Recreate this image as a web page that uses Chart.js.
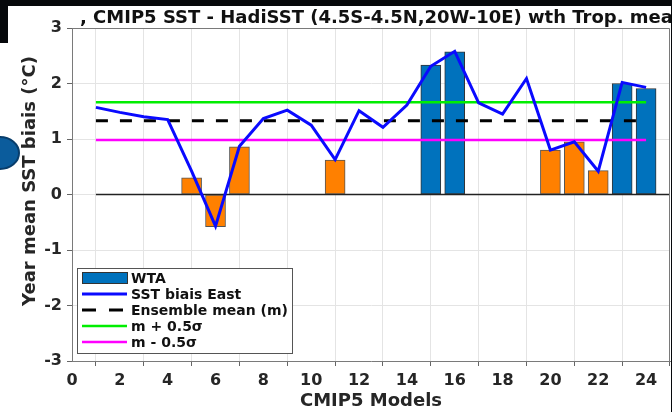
<!DOCTYPE html>
<html>
<head>
<meta charset="utf-8">
<script src="https://cdn.jsdelivr.net/npm/chart.js@4.4.0/dist/chart.umd.min.js"></script>
<style>
  html, body { margin: 0; padding: 0; background: #fff; }
  canvas { display: block; }
</style>
</head>
<body>
<canvas id="biasChart" width="672" height="412"></canvas>
<script>
// values
const models = [1, 2, 3, 4, 5, 6, 7, 8, 9, 10, 11, 12, 13, 14, 15, 16, 17, 18, 19, 20, 21, 22, 23, 24];
const sstEast = [1.57, 1.48, 1.40, 1.35, 0.42, -0.57, 0.87, 1.37, 1.52, 1.25, 0.63, 1.51, 1.21, 1.61, 2.31, 2.58, 1.65, 1.45, 2.09, 0.80, 0.95, 0.42, 2.02, 1.93];

const wtaModels = [15, 16, 23, 24];
const wtaBias = [2.33, 2.57, 2.00, 1.91];
const otherModels = [5, 6, 7, 11, 20, 21, 22];
const otherBias = [0.30, -0.58, 0.86, 0.62, 0.80, 0.95, 0.43];

const ensembleMean = 1.33;
const meanPlus = 1.66;
const meanMinus = 0.98;
const lineSpan = [1, 24];
const zeroSpan = [1, 25];

const xTicks = [0, 2, 4, 6, 8, 10, 12, 14, 16, 18, 20, 22, 24];
const yTicks = [-3, -2, -1, 0, 1, 2, 3];

const titleText = ", CMIP5 SST - HadiSST (4.5S-4.5N,20W-10E) wth Trop. mean";
const yTitle = "Year mean SST biais (\u00B0C)";
const xTitle = "CMIP5 Models";

const FONT = '"DejaVu Sans", "Liberation Sans", sans-serif';
const TEXT = "#262626";

const pts = (xs, ys) => xs.map((x, i) => ({ x: x, y: ys[i] }));
const flat = (span, v) => span.map(x => ({ x: x, y: v }));

// title, y label, legend box, frame and the slide leftovers around the figure
const decor = {
    id: "decor",
    beforeDraw(chart) {
        const c = chart.ctx;
        c.save();
        c.fillStyle = "#fff";
        c.fillRect(0, 0, chart.width, chart.height);
        c.restore();
    },
    afterDraw(chart) {
        const c = chart.ctx;
        const a = chart.chartArea;
        c.save();

        // top and right frame
        c.strokeStyle = "#7a7a7a";
        c.lineWidth = 1;
        c.beginPath();
        c.moveTo(a.left, a.top + 0.5);
        c.lineTo(a.right - 0.5, a.top + 0.5);
        c.lineTo(a.right - 0.5, a.bottom);
        c.stroke();

        // title
        c.fillStyle = "#111";
        c.font = "bold 18px " + FONT;
        c.textBaseline = "middle";
        c.textAlign = "left";
        c.fillText(titleText, 80, 18);

        // y axis title
        c.save();
        c.translate(30, 181);
        c.rotate(-Math.PI / 2);
        c.textAlign = "center";
        c.fillStyle = TEXT;
        c.font = "bold 18px " + FONT;
        c.fillText(yTitle, 0, 0);
        c.restore();

        // legend
        const items = chart.data.datasets.filter(d => d.label);
        const bx = 77, by = 268, bw = 215, bh = 85;
        c.fillStyle = "#fff";
        c.fillRect(bx, by, bw, bh);
        c.strokeStyle = "#555";
        c.lineWidth = 1;
        c.strokeRect(bx + 0.5, by + 0.5, bw, bh);
        c.font = "bold 14px " + FONT;
        c.textAlign = "left";
        items.forEach((d, i) => {
            const y = by + 10 + i * 16;
            if (d.type === "bar") {
                c.fillStyle = d.backgroundColor;
                c.fillRect(82, y - 6, 46, 12);
                c.strokeStyle = d.borderColor;
                c.strokeRect(82.5, y - 5.5, 45, 11);
            } else {
                c.strokeStyle = d.borderColor;
                c.lineWidth = d.borderWidth;
                c.setLineDash(d.borderDash ? [14, 13] : []);
                c.beginPath();
                c.moveTo(82, y);
                c.lineTo(127, y);
                c.stroke();
                c.setLineDash([]);
            }
            c.fillStyle = "#111";
            c.fillText(d.label, 131, y + 1);
        });

        // bits of the surrounding slide
        c.fillStyle = "#06080b";
        c.fillRect(0, 0, chart.width, 6);
        c.fillRect(0, 0, 8, 43);
        c.fillRect(671, 0, 1, chart.height);
        c.beginPath();
        c.ellipse(0, 153, 19, 16, 0, 0, Math.PI * 2);
        c.fillStyle = "#0b5c9c";
        c.fill();
        c.lineWidth = 2;
        c.strokeStyle = "#083d6b";
        c.stroke();

        c.restore();
    }
};

new Chart(document.getElementById("biasChart"), {
    type: "bar",
    data: {
        datasets: [
            {
                type: "bar",
                label: "WTA",
                data: pts(wtaModels, wtaBias),
                backgroundColor: "#0072bd",
                borderColor: "#333",
                borderWidth: 1,
                borderSkipped: false,
                barThickness: 20,
                grouped: false,
                order: 2
            },
            {
                type: "line",
                label: "SST biais East",
                data: pts(models, sstEast),
                borderColor: "#0a0aff",
                borderWidth: 3,
                pointRadius: 0,
                order: 0
            },
            {
                type: "line",
                label: "Ensemble mean (m)",
                data: flat(lineSpan, ensembleMean),
                borderColor: "#000",
                borderWidth: 3,
                borderDash: [12, 12],
                pointRadius: 0,
                order: 1
            },
            {
                type: "line",
                label: "m + 0.5\u03C3",
                data: flat(lineSpan, meanPlus),
                borderColor: "#00ee00",
                borderWidth: 2.5,
                pointRadius: 0,
                order: 1
            },
            {
                type: "line",
                label: "m - 0.5\u03C3",
                data: flat(lineSpan, meanMinus),
                borderColor: "#ff00ff",
                borderWidth: 2.5,
                pointRadius: 0,
                order: 1
            },
            {
                type: "line",
                label: "",
                data: flat(zeroSpan, 0),
                borderColor: "#222",
                borderWidth: 1.5,
                pointRadius: 0,
                order: 3
            },
            {
                type: "bar",
                label: "",
                data: pts(otherModels, otherBias),
                backgroundColor: "#ff8000",
                borderColor: "#555",
                borderWidth: 1,
                borderSkipped: false,
                barThickness: 20,
                grouped: false,
                order: 2
            }
        ]
    },
    options: {
        responsive: false,
        animation: false,
        devicePixelRatio: 1,
        layout: { padding: { top: 28, right: 2, left: 0, bottom: 0 } },
        plugins: {
            legend: { display: false },
            tooltip: { enabled: false }
        },
        scales: {
            x: {
                type: "linear",
                min: 0,
                max: 25,
                offset: false,
                afterFit: s => { s.height = 51; },
                afterBuildTicks: s => { s.ticks = xTicks.map(v => ({ value: v })); },
                grid: { color: "#e4e4e4", tickLength: 5, tickColor: "#666" },
                border: { color: "#7a7a7a" },
                ticks: { color: TEXT, padding: 5, maxRotation: 0, font: { family: FONT, size: 16, weight: "bold" } },
                title: { display: true, text: xTitle, color: TEXT, padding: { top: 0, bottom: 0 }, font: { family: FONT, size: 18, weight: "bold" } }
            },
            y: {
                min: -3,
                max: 3,
                afterFit: s => { s.width = 72; },
                afterBuildTicks: s => { s.ticks = yTicks.map(v => ({ value: v })); },
                grid: { color: "#e4e4e4", tickLength: 5, tickColor: "#666" },
                border: { color: "#7a7a7a" },
                ticks: { color: TEXT, padding: 5, font: { family: FONT, size: 16, weight: "bold" } }
            }
        }
    },
    plugins: [decor]
});
</script>
</body>
</html>
